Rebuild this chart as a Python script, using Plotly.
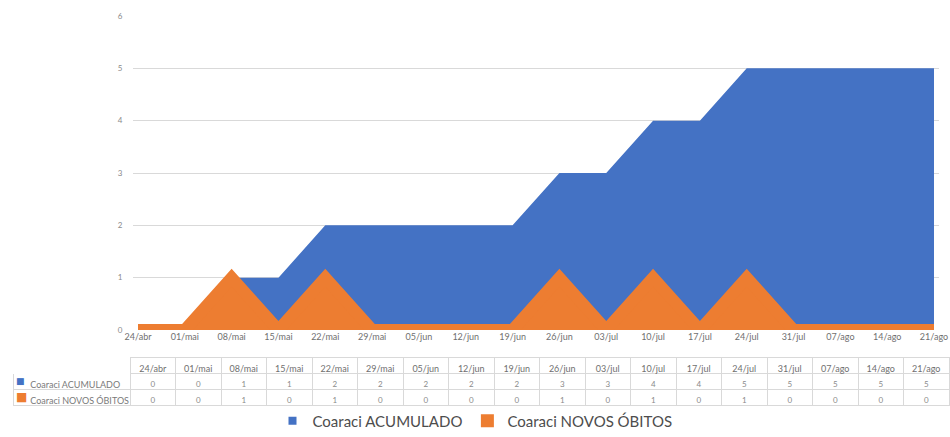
import plotly.graph_objects as go

# Weekly categories (dates)
categories = ["24/abr", "01/mai", "08/mai", "15/mai", "22/mai", "29/mai",
              "05/jun", "12/jun", "19/jun", "26/jun", "03/jul", "10/jul",
              "17/jul", "24/jul", "31/jul", "07/ago", "14/ago", "21/ago"]

# Series values
acumulado = [0, 0, 1, 1, 2, 2, 2, 2, 2, 3, 3, 4, 4, 5, 5, 5, 5, 5]
novos_obitos = [0, 0, 1, 0, 1, 0, 0, 0, 0, 1, 0, 1, 0, 1, 0, 0, 0, 0]

series_names = ["Coaraci ACUMULADO", "Coaraci NOVOS ÓBITOS"]
y_ticks = [0, 1, 2, 3, 4, 5, 6]

BLUE = "#4472C4"
ORANGE = "#ED7D31"
GRID = "#D9D9D9"
TEXT = "#7F7F7F"
FONT = "Lato"

W, H = 950, 437

fig = go.Figure()

x_idx = list(range(len(categories)))

# Area series (legend entries are drawn by the marker-only traces below)
fig.add_trace(go.Scatter(
    x=x_idx, y=acumulado, name=series_names[0],
    mode="lines", fill="tozeroy",
    fillcolor=BLUE, line=dict(color=BLUE, width=0),
    showlegend=False, hoverinfo="x+y",
))
fig.add_trace(go.Scatter(
    x=x_idx, y=novos_obitos, name=series_names[1],
    mode="lines", fill="tozeroy",
    fillcolor=ORANGE, line=dict(color=ORANGE, width=12),
    showlegend=False, hoverinfo="x+y",
))

# Legend keys
fig.add_trace(go.Scatter(
    x=[None], y=[None], name=series_names[0], mode="markers",
    marker=dict(symbol="square", size=8, color=BLUE),
))
fig.add_trace(go.Scatter(
    x=[None], y=[None], name=series_names[1], mode="markers",
    marker=dict(symbol="square", size=13, color=ORANGE),
))

# Data table under the chart (non-breaking spaces keep each label on one line)
NBSP = "\u00a0"
label_col = [NBSP * 4 + s.replace(" ", NBSP) for s in series_names]
header_vals = [""] + categories
cell_vals = [label_col] + [[str(a), str(n)] for a, n in zip(acumulado, novos_obitos)]

left_px, right_px = 13, 949
label_w = 117
col_w = (right_px - left_px - label_w) / len(categories)
table_top = 357
row_h = 16

fig.add_trace(go.Table(
    domain=dict(x=[left_px / W, right_px / W],
                y=[(H - table_top - 3 * row_h - 2) / H, (H - table_top) / H]),
    columnwidth=[label_w] + [col_w] * len(categories),
    header=dict(
        values=header_vals,
        align="center",
        height=row_h,
        fill_color="white",
        line=dict(color=["white"] + [GRID] * len(categories), width=1),
        font=dict(family=FONT, size=9, color="#6F6F6F"),
    ),
    cells=dict(
        values=cell_vals,
        align=["left"] + ["center"] * len(categories),
        height=row_h,
        fill_color="white",
        line=dict(color=GRID, width=1),
        font=dict(family=FONT, size=[9] + [8] * len(categories),
                  color=["#7A7A7A"] + ["#8A8A8A"] * len(categories)),
    ),
))

# Colour keys inside the table's row labels
for i, (col, sz) in enumerate([(BLUE, 9), (ORANGE, 12)]):
    fig.add_annotation(
        xref="paper", yref="paper",
        x=(left_px + 1) / W, xanchor="left",
        y=(H - (table_top + row_h * (i + 1.5))) / H, yanchor="middle",
        text="■", showarrow=False,
        font=dict(family="DejaVu Sans", size=sz, color=col),
    )

n = len(categories) - 1
fig.update_layout(
    width=W, height=H,
    margin=dict(l=0, r=0, t=0, b=0, autoexpand=False),
    paper_bgcolor="white",
    plot_bgcolor="white",
    font=dict(family=FONT, color=TEXT),
    showlegend=True,
    legend=dict(
        orientation="h",
        x=0.5, xanchor="center",
        y=(H - 421) / H, yanchor="middle",
        font=dict(family=FONT, size=15, color="#4D4D4D"),
        itemwidth=30,
        traceorder="normal",
        bgcolor="rgba(0,0,0,0)",
    ),
    xaxis=dict(
        domain=[133.3 / W, 938.7 / W],
        range=[-0.1, n + 0.1],
        tickmode="array",
        tickvals=x_idx,
        ticktext=categories,
        showgrid=False,
        zeroline=False,
        showline=False,
        tickfont=dict(family=FONT, size=9, color="#6F6F6F"),
        ticks="",
        automargin=False,
        fixedrange=True,
    ),
    yaxis=dict(
        domain=[(H - 330) / H, (H - 16) / H],
        range=[0, 6],
        tickvals=y_ticks,
        showgrid=True,
        gridcolor=GRID,
        gridwidth=1,
        zeroline=False,
        showline=False,
        tickfont=dict(family=FONT, size=8, color="#8A8A8A"),
        ticklabelstandoff=10,
        automargin=False,
        fixedrange=True,
    ),
)

fig.write_html("out.html")
